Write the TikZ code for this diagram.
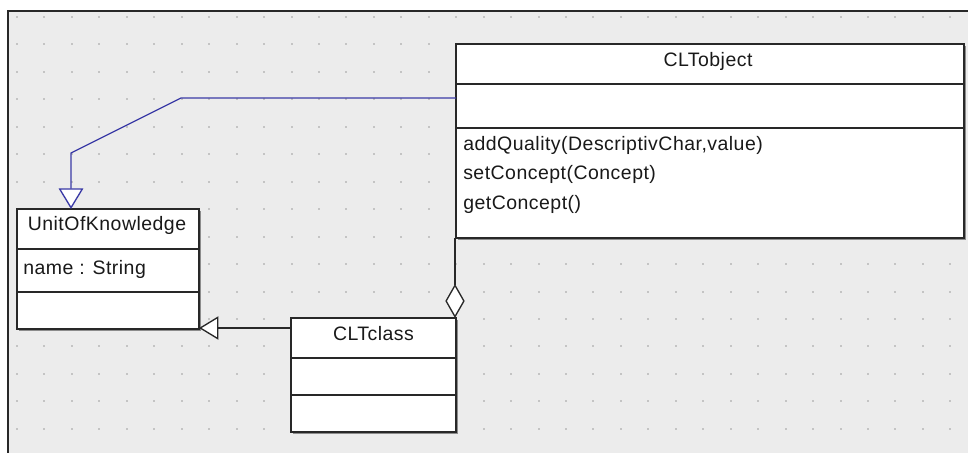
\documentclass[tikz,border=0pt]{standalone}
\usepackage{fontspec}
\setmainfont{Liberation Sans}
\newfontfamily\umlfont[LetterSpace=2.5]{Liberation Sans}
\usetikzlibrary{arrows.meta}
\definecolor{bgc}{RGB}{236,236,236}
\definecolor{dotc}{RGB}{196,196,196}
\definecolor{umlblue}{RGB}{58,58,166}
\definecolor{edge}{RGB}{40,40,40}
\tikzset{
  umlbox/.style={draw=edge, fill=white, line width=0.95pt, inner sep=0pt, outer sep=0pt, anchor=north west},
  shadowbox/.style={fill=black!45, draw=none},
  divider/.style={draw=edge, line width=0.95pt},
  umltext/.style={font=\umlfont\fontsize{14.6pt}{17pt}\selectfont, inner sep=0pt, text=black!90},
  genblue/.style={draw=umlblue, line width=1pt, -{Triangle[open, fill=white, length=15.5pt, width=18.5pt]}},
  genblack/.style={draw=edge, line width=1pt, -{Triangle[open, fill=white, length=14.6pt, width=17.5pt]}},
  aggr/.style={draw=edge, line width=1pt, -{Diamond[open, fill=white, length=25.5pt, width=14.5pt]}}
}
\begin{document}
\begin{tikzpicture}[x=0.75pt,y=-0.75pt]
\useasboundingbox (0,0) rectangle (968,453);
% canvas
\fill[white] (0,0) rectangle (968,453);
\fill[bgc] (8,11) rectangle (968,453);
\foreach \i in {0,...,34} {
  \foreach \j in {0,...,15} {
    \fill[dotc] ({17+27.45*\i-1},{17+27.45*\j-1}) rectangle ++(2,2);
  }
}
\draw[edge, line width=1.2pt] (8,453) -- (8,11) -- (968,11);

% shadows
\fill[shadowbox] (458,46) rectangle (966,240);
\fill[shadowbox] (19,211) rectangle (201,331);
\fill[shadowbox] (293,320) rectangle (458,434);

% classes
\node[umlbox, minimum width=381pt, minimum height=145.5pt] (obj) at (456,44) {};
\node[umlbox, minimum width=136.5pt, minimum height=90pt] (unit) at (17,209) {};
\node[umlbox, minimum width=123.75pt, minimum height=85.5pt] (cls) at (291,318) {};

% compartments
\draw[divider] (obj.west |- 0,84) -- (obj.east |- 0,84);
\draw[divider] (obj.west |- 0,128) -- (obj.east |- 0,128);
\draw[divider] (unit.west |- 0,249) -- (unit.east |- 0,249);
\draw[divider] (unit.west |- 0,292) -- (unit.east |- 0,292);
\draw[divider] (cls.west |- 0,358) -- (cls.east |- 0,358);
\draw[divider] (cls.west |- 0,395) -- (cls.east |- 0,395);

% texts
\node[umltext, anchor=base] (objname) at (708,67) {CLTobject};
\node[umltext, anchor=base west] (m1) at (463,150.7) {addQuality(DescriptivChar,value)};
\node[umltext, anchor=base west] (m2) at (463,180) {setConcept(Concept)};
\node[umltext, anchor=base west] (m3) at (463,209.3) {getConcept()};
\node[umltext, anchor=base] (unitname) at (107,230.5) {UnitOfKnowledge};
\node[umltext, anchor=base west] (attr) at (23,274.3) {name : String};
\node[umltext, anchor=base] (clsname) at (373.5,340.7) {CLTclass};

% connectors
\coordinate (k1) at (181,98);
\coordinate (k2) at (71,153);
\draw[genblue] (obj.west |- 0,98) -- (k1) -- (k2) -- (unit.north -| 71,0);
\draw[genblack] (cls.west |- 0,328) -- (unit.east |- 0,328);
\draw[aggr] (obj.south -| 455,0) -- (cls.north -| 455,0);
\end{tikzpicture}
\end{document}
